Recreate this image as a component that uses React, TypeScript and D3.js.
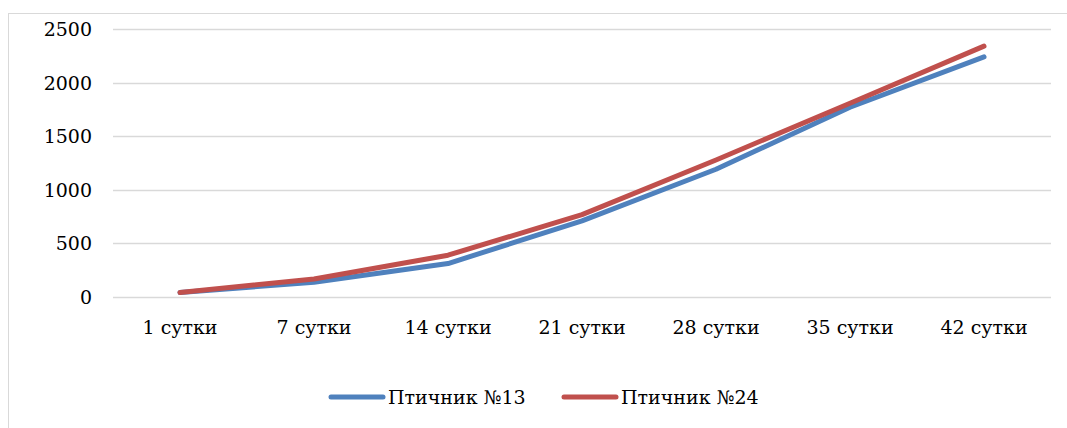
import { useEffect, useRef } from 'react';
import * as d3 from 'd3';

const categories = ['1 сутки', '7 сутки', '14 сутки', '21 сутки', '28 сутки', '35 сутки', '42 сутки'];
const house13 = [42, 138, 312, 710, 1192, 1770, 2240];
const house24 = [42, 168, 390, 768, 1278, 1808, 2340];
const yTicks = [0, 500, 1000, 1500, 2000, 2500];
const seriesNames = ['Птичник №13', 'Птичник №24'];
const colors = ['#4F81BD', '#C0504D'];

const W = 1067;
const H = 428;
const FONT = "'DejaVu Serif', serif";

const App = () => {
    const svgRef = useRef<SVGSVGElement | null>(null);

    useEffect(() => {
        if (!svgRef.current) return;
        const svg = d3.select(svgRef.current);
        svg.selectAll('*').remove();

        // chart frame (cut off on right and bottom)
        svg.append('rect')
            .attr('x', 8.5).attr('y', 13.5)
            .attr('width', W + 10).attr('height', H + 10)
            .attr('fill', 'none').attr('stroke', '#D9D9D9').attr('stroke-width', 1);

        const x = d3.scaleBand().domain(categories).range([113, 1051]);
        const y = d3.scaleLinear().domain([0, 2500]).range([297, 29]);

        const grid = svg.append('g');
        grid.selectAll('line')
            .data(yTicks)
            .join('line')
            .attr('x1', 113).attr('x2', 1051)
            .attr('y1', d => Math.round(y(d)) + 0.5)
            .attr('y2', d => Math.round(y(d)) + 0.5)
            .attr('stroke', '#D9D9D9').attr('stroke-width', 1.3);

        svg.append('g').selectAll('text')
            .data(yTicks)
            .join('text')
            .attr('x', 92)
            .attr('y', d => y(d) + 7)
            .attr('text-anchor', 'end')
            .style('font-family', FONT)
            .style('font-size', '19px')
            .attr('fill', '#000')
            .text(d => d);

        svg.append('g').selectAll('text')
            .data(categories)
            .join('text')
            .attr('x', d => (x(d) ?? 0) + x.bandwidth() / 2)
            .attr('y', 334)
            .attr('text-anchor', 'middle')
            .style('font-family', FONT)
            .style('font-size', '19px')
            .attr('fill', '#000')
            .text(d => d);

        const line = d3.line<number>()
            .x((_, i) => (x(categories[i]) ?? 0) + x.bandwidth() / 2)
            .y(d => y(d));

        [house13, house24].forEach((s, i) => {
            svg.append('path')
                .datum(s)
                .attr('d', line)
                .attr('fill', 'none')
                .attr('stroke', colors[i])
                .attr('stroke-width', 5)
                .attr('stroke-linecap', 'round')
                .attr('stroke-linejoin', 'round');
        });

        // legend
        const legendX = [331, 564];
        seriesNames.forEach((name, i) => {
            const g = svg.append('g').attr('transform', `translate(${legendX[i]}, 397)`);
            g.append('line')
                .attr('x1', 0).attr('x2', 52)
                .attr('stroke', colors[i]).attr('stroke-width', 5)
                .attr('stroke-linecap', 'round');
            g.append('text')
                .attr('x', 57).attr('y', 7)
                .style('font-family', FONT)
                .style('font-size', '19px')
                .attr('fill', '#000')
                .text(name);
        });
    }, []);

    return (
        <svg ref={svgRef} width={W} height={H}
            style={{ position: 'absolute', left: 0, top: 0, background: '#fff' }} />
    );
};

export default App;
